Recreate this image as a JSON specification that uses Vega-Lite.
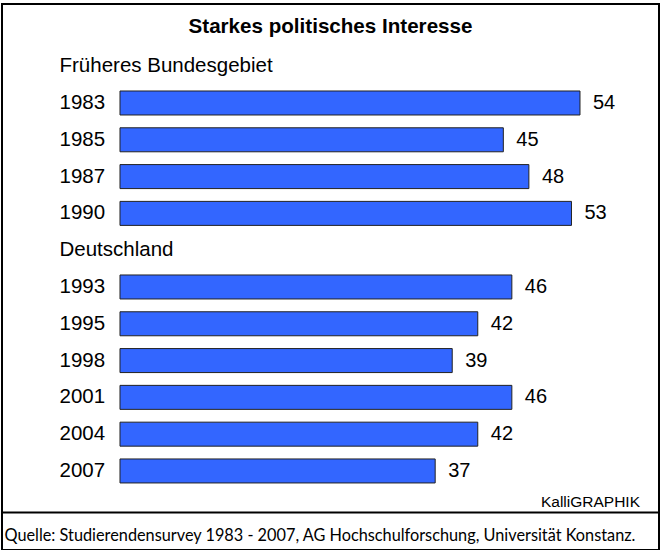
{
  "$schema": "https://vega.github.io/schema/vega-lite/v6.json",
  "width": 657,
  "height": 546,
  "autosize": {"type": "none"},
  "padding": {"left": 2, "top": 4, "right": 3, "bottom": 0},
  "background": "white",
  "config": {
    "view": {"stroke": "black", "strokeWidth": 2},
    "font": "Liberation Sans"
  },
  "title": {
    "text": "Starkes politisches Interesse",
    "anchor": "middle",
    "offset": -44,
    "fontSize": 20.6,
    "font": "Liberation Sans",
    "fontWeight": "bold",
    "color": "black",
    "baseline": "middle"
  },
  "data": {
    "values": [
      {"row": "Früheres Bundesgebiet", "value": null},
      {"row": "1983", "value": 54},
      {"row": "1985", "value": 45},
      {"row": "1987", "value": 48},
      {"row": "1990", "value": 53},
      {"row": "Deutschland", "value": null},
      {"row": "1993", "value": 46},
      {"row": "1995", "value": 42},
      {"row": "1998", "value": 39},
      {"row": "2001", "value": 46},
      {"row": "2004", "value": 42},
      {"row": "2007", "value": 37}
    ]
  },
  "encoding": {
    "y": {
      "field": "row",
      "type": "ordinal",
      "sort": null,
      "scale": {
        "domain": ["title", "Früheres Bundesgebiet", "1983", "1985", "1987", "1990", "Deutschland", "1993", "1995", "1998", "2001", "2004", "2007", "credit"],
        "paddingInner": 0.348,
        "paddingOuter": 0.593,
        "align": 0.307
      },
      "axis": {
        "orient": "left",
        "offset": -118,
        "domain": false,
        "ticks": false,
        "tickSize": 0,
        "grid": false,
        "labelPadding": 61,
        "labelAlign": "left",
        "labelBaseline": "middle",
        "labelFontSize": 20.5,
        "labelFont": "Liberation Sans",
        "labelColor": "black",
        "labelLimit": 500,
        "labelExpr": "datum.value == 'title' || datum.value == 'credit' ? '' : datum.value",
        "title": null
      }
    },
    "x": {
      "field": "value",
      "type": "quantitative",
      "scale": {"domain": [-13.852, 63.274], "nice": false, "zero": false},
      "axis": {
        "orient": "bottom",
        "offset": -38,
        "domain": true,
        "domainColor": "black",
        "domainWidth": 2,
        "ticks": false,
        "labels": false,
        "grid": false,
        "title": "Quelle: Studierendensurvey 1983 - 2007, AG Hochschulforschung, Universität Konstanz.",
        "titleAnchor": "start",
        "titleAlign": "left",
        "titleX": 2,
        "titleY": 28,
        "titleBaseline": "alphabetic",
        "titleFont": "Lato",
        "titleFontSize": 16.3,
        "titleFontWeight": "normal",
        "titleColor": "black"
      }
    }
  },
  "layer": [
    {
      "mark": {"type": "bar", "color": "#3366ff", "stroke": "#222222", "strokeWidth": 1},
      "encoding": {"x2": {"datum": 0}}
    },
    {
      "mark": {"type": "text", "align": "left", "baseline": "middle", "dx": 13, "fontSize": 20, "color": "black"},
      "encoding": {"text": {"field": "value", "type": "quantitative"}}
    },
    {
      "data": {"values": [{"row": "credit", "credit": "KalliGRAPHIK"}]},
      "mark": {"type": "text", "align": "right", "baseline": "middle", "dx": -19, "dy": -6, "fontSize": 15.5, "color": "black"},
      "encoding": {
        "x": {"value": "width"},
        "text": {"field": "credit"}
      }
    }
  ]
}
